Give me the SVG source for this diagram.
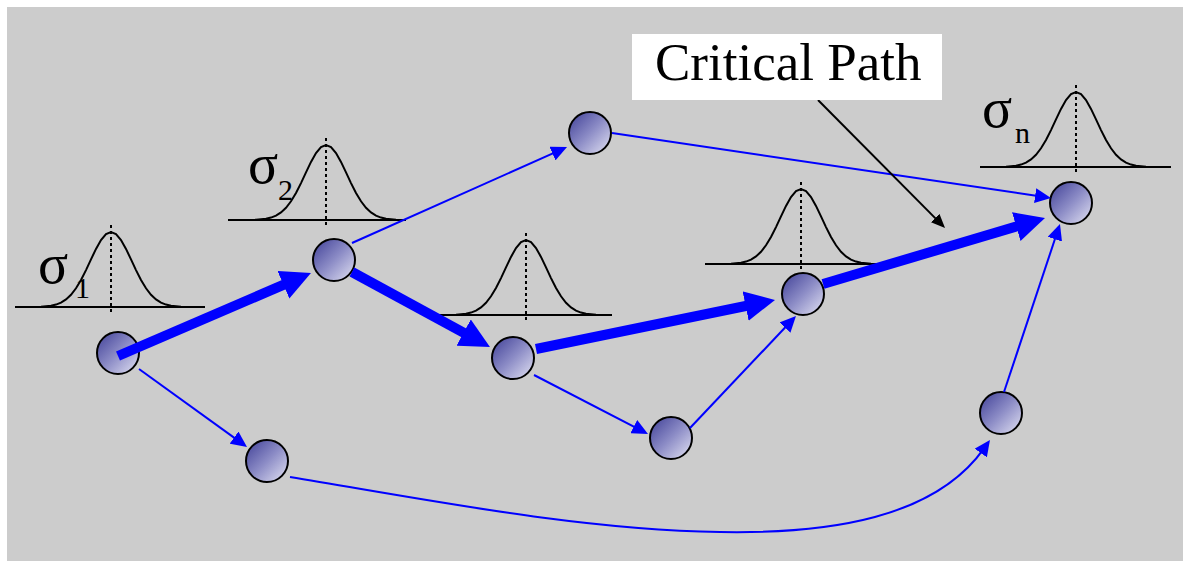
<svg xmlns="http://www.w3.org/2000/svg" xmlns:xlink="http://www.w3.org/1999/xlink" width="1183" height="561" viewBox="0 0 1183 561">
  <style>
    .bg { fill: #cccccc; }
    .node { fill: url(#nodeFill); stroke: #000; stroke-width: 2; }
    .bell { fill: none; stroke: #000; stroke-width: 2; }
    .axis { stroke: #000; stroke-width: 2; }
    .peak { stroke: #000; stroke-width: 2; stroke-dasharray: 3 3; }
    .sigma { font-family: "Liberation Serif", "DejaVu Serif", serif; font-size: 56px; fill: #000; }
    .sub { font-family: "Liberation Serif", "DejaVu Serif", serif; font-size: 30px; fill: #000; }
    .label { font-family: "Liberation Serif", "Times New Roman", serif; font-size: 53px; fill: #000; }
    .thick { fill: none; stroke: #0000ff; stroke-width: 10; marker-end: url(#headThick); }
    .thin { fill: none; stroke: #0000ff; stroke-width: 2; marker-end: url(#headThin); }
    .pointer { fill: none; stroke: #000; stroke-width: 2; marker-end: url(#headBlack); }
  </style>
  <defs>
    <linearGradient id="nodeFill" x1="0" y1="0" x2="1" y2="1">
      <stop offset="0" stop-color="#3e3e96"/>
      <stop offset="0.5" stop-color="#8c8cc6"/>
      <stop offset="1" stop-color="#e4e4f4"/>
    </linearGradient>
    <marker id="headThick" markerUnits="userSpaceOnUse" viewBox="0 0 30 30" markerWidth="30" markerHeight="30" refX="15" refY="15" orient="auto">
      <path d="M0,0 L30,15 L0,30 z" fill="#0000ff"/>
    </marker>
    <marker id="headThin" markerUnits="userSpaceOnUse" viewBox="0 0 16 15" markerWidth="16" markerHeight="15" refX="6" refY="7.5" orient="auto">
      <path d="M0,0 L16,7.5 L0,15 z" fill="#0000ff"/>
    </marker>
    <marker id="headBlack" markerUnits="userSpaceOnUse" viewBox="0 0 14 12" markerWidth="14" markerHeight="12" refX="5" refY="6" orient="auto">
      <path d="M0,0 L14,6 L0,12 z" fill="#000"/>
    </marker>
    <!-- bell curve, baseline at y=0, peak at (0,-75) -->
    <path id="bellCurve" class="bell" d="M-80,0 L-70,-0.3 L-60,-1.3 L-55,-2.4 L-50,-4.4 L-45,-7.6 L-40,-12.2 L-35,-18.7 L-30,-27 L-25,-36.9 L-20,-47.6 L-15,-58.1 L-10,-67 L-5,-72.9 L0,-75 L5,-72.9 L10,-67 L15,-58.1 L20,-47.6 L25,-36.9 L30,-27 L35,-18.7 L40,-12.2 L45,-7.6 L50,-4.4 L55,-2.4 L60,-1.3 L70,-0.3 L80,0"/>
  </defs>

  <rect class="bg" x="7" y="7" width="1176" height="554"/>

  <!-- delay distributions -->
  <g id="dist1" transform="translate(111,307)">
    <line class="axis" x1="-96" y1="0" x2="94" y2="0"/>
    <use xlink:href="#bellCurve" href="#bellCurve"/>
    <line class="peak" x1="0" y1="-82" x2="0" y2="5"/>
    <text class="sigma" x="-73" y="-24">σ</text>
    <text class="sub" x="-36" y="-9">1</text>
  </g>
  <g id="dist2" transform="translate(326,220)">
    <line class="axis" x1="-98" y1="0" x2="79" y2="0"/>
    <use xlink:href="#bellCurve" href="#bellCurve"/>
    <line class="peak" x1="0" y1="-82" x2="0" y2="5"/>
    <text class="sigma" x="-78" y="-37">σ</text>
    <text class="sub" x="-48" y="-20">2</text>
  </g>
  <g id="dist3" transform="translate(526,315)">
    <line class="axis" x1="-96" y1="0" x2="86" y2="0"/>
    <use xlink:href="#bellCurve" href="#bellCurve"/>
    <line class="peak" x1="0" y1="-82" x2="0" y2="5"/>
  </g>
  <g id="dist4" transform="translate(801,264)">
    <line class="axis" x1="-96" y1="0" x2="94" y2="0"/>
    <use xlink:href="#bellCurve" href="#bellCurve"/>
    <line class="peak" x1="0" y1="-82" x2="0" y2="5"/>
  </g>
  <g id="distN" transform="translate(1076,167)">
    <line class="axis" x1="-96" y1="0" x2="95" y2="0"/>
    <use xlink:href="#bellCurve" href="#bellCurve"/>
    <line class="peak" x1="0" y1="-82" x2="0" y2="5"/>
    <text class="sigma" x="-94" y="-40">σ</text>
    <text class="sub" x="-61" y="-24">n</text>
  </g>

  <!-- nodes -->
  <g id="n1"><circle class="node" cx="118" cy="353" r="21"/></g>
  <g id="n2"><circle class="node" cx="334" cy="260" r="21"/></g>
  <g id="n3"><circle class="node" cx="590" cy="133" r="21"/></g>
  <g id="n4"><circle class="node" cx="513" cy="358" r="21"/></g>
  <g id="n5"><circle class="node" cx="267" cy="461" r="21"/></g>
  <g id="n6"><circle class="node" cx="671" cy="438" r="21"/></g>
  <g id="n7"><circle class="node" cx="803" cy="294" r="21"/></g>
  <g id="n8"><circle class="node" cx="1071" cy="203" r="21"/></g>
  <g id="n9"><circle class="node" cx="1001" cy="413" r="21"/></g>

  <!-- connectors -->
  <g id="edges">
    <path class="thin" d="M352,243 L557.9,151.1"/>
    <path class="thin" d="M612,133 L1041.1,196.5"/>
    <path class="thin" d="M139,369 L238.9,441.1"/>
    <path class="thin" d="M534,375 L639.1,429.4"/>
    <path class="thin" d="M690,428 L789.1,323.3"/>
    <path class="thin" d="M1004,392 L1056.8,233.5"/>
    <path class="thin" d="M290,477 C430,500 580,530 720,532 C830,534 935,518 984.2,448.1"/>

    <path class="thick" d="M118,356 L297.2,278.9"/>
    <path class="thick" d="M352,272 L476.8,339.8"/>
    <path class="thick" d="M536,349 L760.3,303"/>
    <path class="thick" d="M823,284 L1030.6,222.3"/>

    <path class="pointer" d="M818,100 L938.7,221.6"/>
  </g>

  <!-- callout -->
  <g id="callout">
    <rect x="632" y="34" width="310" height="66" fill="#ffffff"/>
    <text class="label" x="655" y="80">Critical Path</text>
  </g>
</svg>
